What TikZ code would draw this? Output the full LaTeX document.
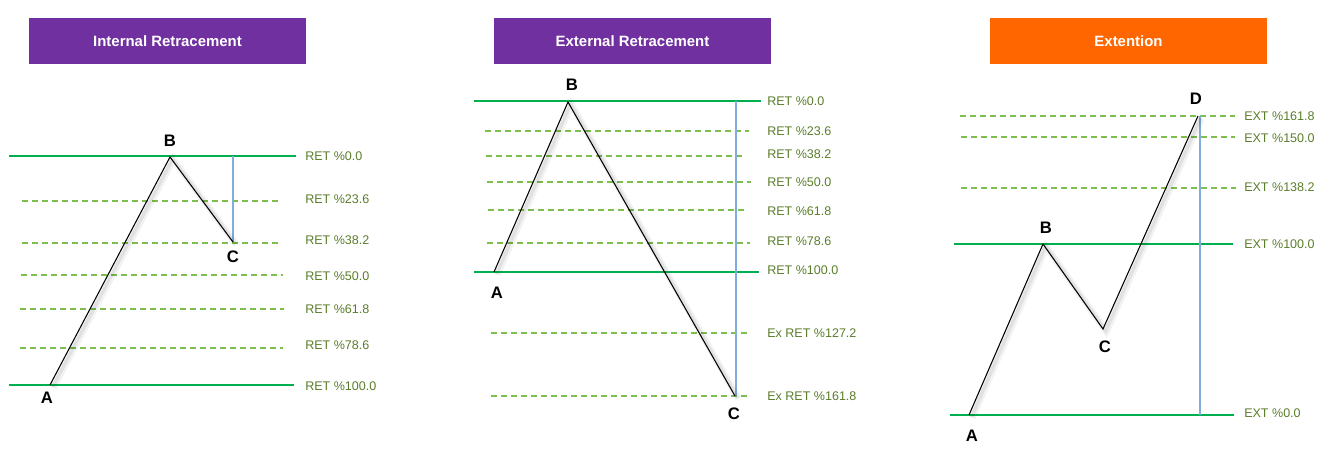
\documentclass[tikz,border=0pt]{standalone}
\usepackage{fontspec}
\setmainfont{Liberation Sans}
\usepackage{xcolor}
\usepackage{tikz}
\usetikzlibrary{positioning}

\definecolor{hdrpurple}{HTML}{7030A0}
\definecolor{hdrorange}{HTML}{FF6600}
\definecolor{levelgreen}{HTML}{00B050}
\definecolor{fibgreen}{HTML}{7DBE4C}
\definecolor{fibtext}{HTML}{5A7D2A}
\definecolor{spanblue}{HTML}{7FAEDD}

\tikzset{
  header/.style={fill=#1, minimum width=207.75pt, minimum height=34.5pt, inner sep=0pt,
    text=white, font=\fontsize{11.2}{13}\selectfont\bfseries},
  baseline level/.style={draw=levelgreen, line width=2.1pt},
  fib level/.style={draw=fibgreen, dash pattern=on 4.5pt off 3pt, line width=0.85pt},
  fib label/.style={anchor=west, inner sep=0pt, text=fibtext, font=\fontsize{9.4}{11}\selectfont},
  pt label/.style={inner sep=0pt, font=\fontsize{12.5}{14}\selectfont\bfseries},
  swing/.style={draw=black, line width=0.8pt,
    preaction={draw=black, draw opacity=0.05, line width=5pt, transform canvas={xshift=2.5pt, yshift=-2pt}},
    preaction={draw=black, draw opacity=0.07, line width=2.5pt, transform canvas={xshift=2pt, yshift=-1.5pt}}},
  span/.style={draw=spanblue, line width=0.9pt}
}

\begin{document}
\begin{tikzpicture}[x=0.75pt,y=0.75pt,yscale=-1,xscale=1]
\path[use as bounding box] (0,0) rectangle (1332,452);

% ---------- Internal Retracement ----------
\node[header=hdrpurple] (hdrInt) at (167.5,41) {Internal Retracement};
%Straight Lines
\coordinate (iTopL) at (9,156);   \coordinate (iTopR) at (296,156);
\coordinate (iBotL) at (9,385);   \coordinate (iBotR) at (294,385);
\draw[baseline level] (iTopL) -- (iTopR);
\draw[baseline level] (iBotL) -- (iBotR);
\coordinate (i236L) at (22,201); \coordinate (i236R) at (282,201);
\coordinate (i382L) at (22,243); \coordinate (i382R) at (282,243);
\coordinate (i500L) at (21,275); \coordinate (i500R) at (283,275);
\coordinate (i618L) at (20,309); \coordinate (i618R) at (284,309);
\coordinate (i786L) at (20,348); \coordinate (i786R) at (283,348);
\draw[fib level] (i236L) -- (i236R);
\draw[fib level] (i382L) -- (i382R);
\draw[fib level] (i500L) -- (i500R);
\draw[fib level] (i618L) -- (i618R);
\draw[fib level] (i786L) -- (i786R);
%Swing
\coordinate (iA) at (50,385);
\coordinate (iB) at (170,157);
\coordinate (iC) at (233,242);
\coordinate (iCtop) at (233,156);
\draw[span] (iCtop) -- (iC);
\draw[swing] (iA) -- (iB) -- (iC);
% Text Node
\node[pt label] (iAlbl) at (47,398) {A};
\node[pt label] (iBlbl) at (170,141) {B};
\node[pt label] (iClbl) at (233,257) {C};
\node[fib label] (iL000) at (305,156) {RET \%0.0};
\node[fib label] (iL236) at (305,199) {RET \%23.6};
\node[fib label] (iL382) at (305,240) {RET \%38.2};
\node[fib label] (iL500) at (305,276) {RET \%50.0};
\node[fib label] (iL618) at (305,309) {RET \%61.8};
\node[fib label] (iL786) at (305,345) {RET \%78.6};
\node[fib label] (iL100) at (305,386) {RET \%100.0};

% ---------- External Retracement ----------
\node[header=hdrpurple] (hdrExt) at (632.5,41.5) {External Retracement};
%Straight Lines
\coordinate (eTopL) at (474,101); \coordinate (eTopR) at (761,101);
\coordinate (eBotL) at (474,272); \coordinate (eBotR) at (759,272);
\draw[baseline level] (eTopL) -- (eTopR);
\draw[baseline level] (eBotL) -- (eBotR);
\coordinate (e236L) at (485,131); \coordinate (e236R) at (749,131);
\coordinate (e382L) at (486,156); \coordinate (e382R) at (745,156);
\coordinate (e500L) at (487,182); \coordinate (e500R) at (751,182);
\coordinate (e618L) at (488,210); \coordinate (e618R) at (746,210);
\coordinate (e786L) at (487,243); \coordinate (e786R) at (750,243);
\coordinate (e1272L) at (491,333); \coordinate (e1272R) at (749,333);
\coordinate (e1618L) at (491,396); \coordinate (e1618R) at (749,396);
\draw[fib level] (e236L) -- (e236R);
\draw[fib level] (e382L) -- (e382R);
\draw[fib level] (e500L) -- (e500R);
\draw[fib level] (e618L) -- (e618R);
\draw[fib level] (e786L) -- (e786R);
\draw[fib level] (e1272L) -- (e1272R);
\draw[fib level] (e1618L) -- (e1618R);
%Swing
\coordinate (eA) at (494,272);
\coordinate (eB) at (568,102);
\coordinate (eC) at (735,396);
\coordinate (eCtop) at (736,101);
\coordinate (eCbot) at (736,396);
\draw[span] (eCtop) -- (eCbot);
\draw[swing] (eA) -- (eB) -- (eC);
% Text Node
\node[pt label] (eAlbl) at (497,293) {A};
\node[pt label] (eBlbl) at (572,85) {B};
\node[pt label] (eClbl) at (734,414) {C};
\node[fib label] (eL000) at (767,101) {RET \%0.0};
\node[fib label] (eL236) at (767,131) {RET \%23.6};
\node[fib label] (eL382) at (767,154) {RET \%38.2};
\node[fib label] (eL500) at (767,182) {RET \%50.0};
\node[fib label] (eL618) at (767,211) {RET \%61.8};
\node[fib label] (eL786) at (767,241) {RET \%78.6};
\node[fib label] (eL100) at (767,270) {RET \%100.0};
\node[fib label] (eL1272) at (767,333) {Ex RET \%127.2};
\node[fib label] (eL1618) at (767,396) {Ex RET \%161.8};

% ---------- Extention ----------
\node[header=hdrorange] (hdrExn) at (1128.5,41.5) {Extention};
%Straight Lines
\coordinate (xTopL) at (954,244); \coordinate (xTopR) at (1233,244);
\coordinate (xBotL) at (950,415); \coordinate (xBotR) at (1234,415);
\draw[baseline level] (xTopL) -- (xTopR);
\draw[baseline level] (xBotL) -- (xBotR);
\coordinate (x1618L) at (960,116); \coordinate (x1618R) at (1235,116);
\coordinate (x1500L) at (961,137); \coordinate (x1500R) at (1235,137);
\coordinate (x1382L) at (961,188); \coordinate (x1382R) at (1236,188);
\draw[fib level] (x1618L) -- (x1618R);
\draw[fib level] (x1500L) -- (x1500R);
\draw[fib level] (x1382L) -- (x1382R);
%Swing
\coordinate (xA) at (969,415);
\coordinate (xB) at (1043,244);
\coordinate (xC) at (1103,329);
\coordinate (xD) at (1198,116);
\coordinate (xDtop) at (1200,116);
\coordinate (xDbot) at (1200,415);
\draw[span] (xDtop) -- (xDbot);
\draw[swing] (xA) -- (xB) -- (xC) -- (xD);
% Text Node
\node[pt label] (xAlbl) at (972,436) {A};
\node[pt label] (xBlbl) at (1046,228) {B};
\node[pt label] (xClbl) at (1105,347) {C};
\node[pt label] (xDlbl) at (1196,99) {D};
\node[fib label] (xL1618) at (1244,116) {EXT \%161.8};
\node[fib label] (xL1500) at (1244,138) {EXT \%150.0};
\node[fib label] (xL1382) at (1244,187) {EXT \%138.2};
\node[fib label] (xL1000) at (1244,244) {EXT \%100.0};
\node[fib label] (xL000) at (1244,413) {EXT \%0.0};

\end{tikzpicture}
\end{document}
